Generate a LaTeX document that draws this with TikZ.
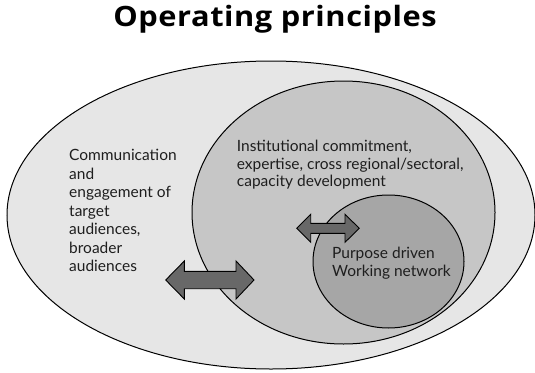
\documentclass[tikz,border=0pt]{standalone}
\usepackage{fontspec}
\setmainfont{Lato}
\newfontfamily\titlefont{Open Sans}[FakeStretch=1.1,LetterSpace=2]
\begin{document}
\begin{tikzpicture}[x=1pt,y=-1pt,
  ring/.style={draw=black,line width=1pt},
  dblarrow/.style={draw=black,line width=0.9pt,fill=arrowgray,line join=miter},
  lbl/.style={anchor=base west,align=left,inner sep=0pt,text=txtgray}]
\definecolor{outergray}{HTML}{E6E6E6}
\definecolor{midgray}{HTML}{C6C6C6}
\definecolor{innergray}{HTML}{A6A6A6}
\definecolor{arrowgray}{HTML}{686868}
\definecolor{txtgray}{HTML}{1E1E1E}
\useasboundingbox (0,0) rectangle (535,372);
\node[anchor=base,inner sep=0pt,font=\titlefont\fontsize{28}{30}\bfseries\selectfont] (title) at (275,27) {Operating principles};
\path[ring,fill=outergray] (271,215) ellipse [x radius=264,y radius=154];
\path[ring,fill=midgray] (343.5,212.5) ellipse [x radius=151.5,y radius=131.5];
\path[ring,fill=innergray] (388.5,261.5) ellipse [x radius=75.5,y radius=66.5];
% big double arrow
\path[dblarrow] (165.7,280) -- (184.3,261) -- (184.3,271.3) -- (236,271.3) -- (236,261) -- (254,280)
  -- (236,299) -- (236,288.7) -- (184.3,288.7) -- (184.3,299) -- cycle;
% small double arrow
\path[dblarrow] (296.7,228.3) -- (310.7,214.3) -- (310.7,223.3) -- (345,223.3) -- (345,214.3) -- (359.3,228.3)
  -- (345,242.3) -- (345,233.3) -- (310.7,233.3) -- (310.7,242.3) -- cycle;
\node[lbl,font=\fontsize{15.5}{18.5}\selectfont] (comm) at (69,271.7) {Communication\\and\\engagement of\\target\\audiences,\\broader\\audiences};
\node[lbl,font=\fontsize{15.5}{17.5}\selectfont] (inst) at (236.7,186.7) {Institutional commitment,\\expertise, cross regional/sectoral,\\capacity development};
\node[lbl,font=\fontsize{15.5}{18}\selectfont] (purp) at (332,276) {Purpose driven\\Working network};
\end{tikzpicture}
\end{document}
